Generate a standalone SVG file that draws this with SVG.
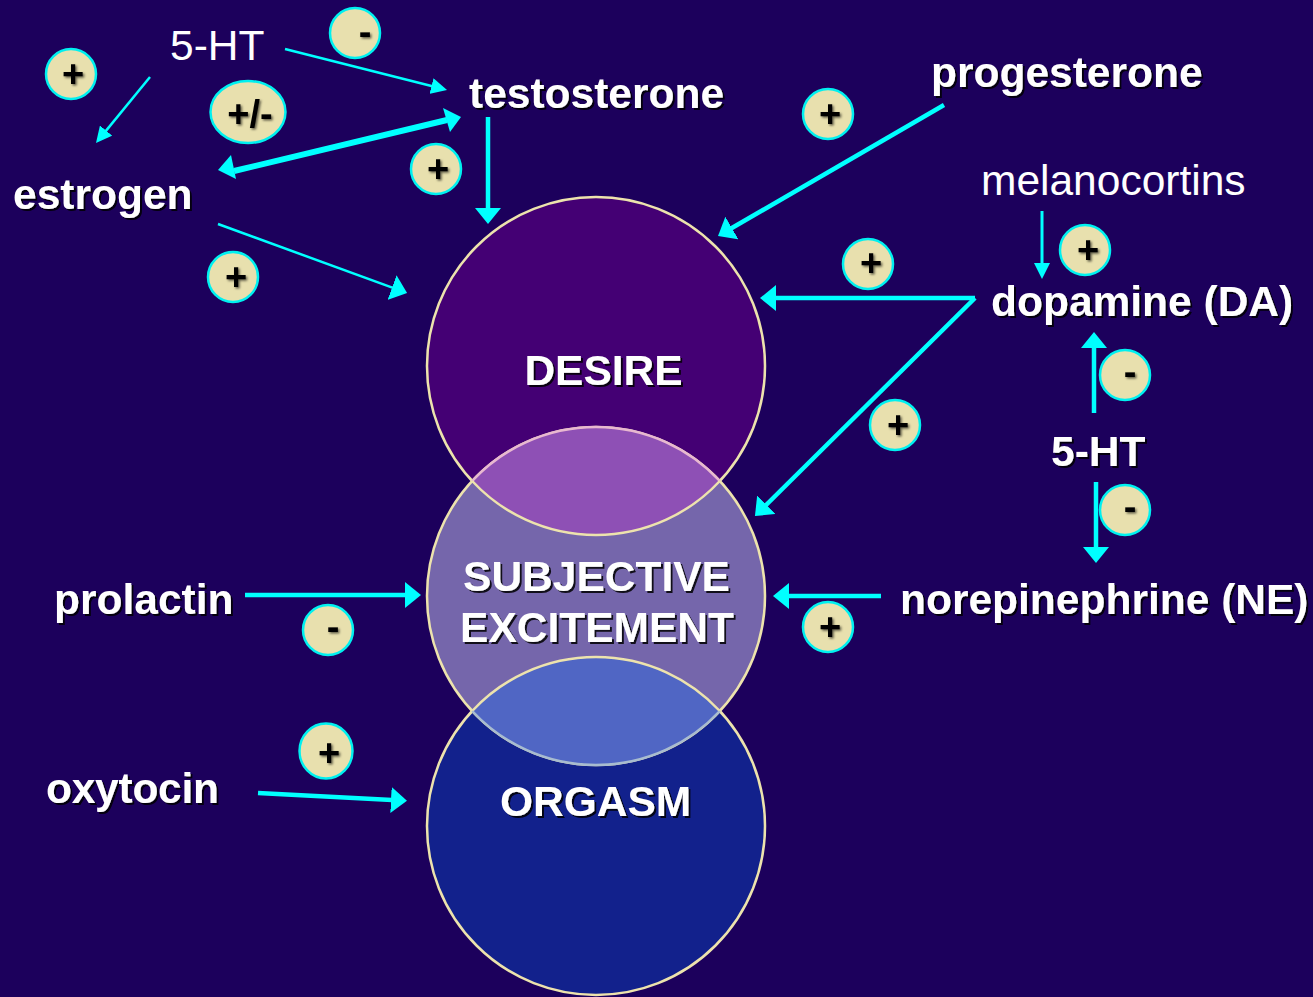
<svg xmlns="http://www.w3.org/2000/svg" width="1313" height="997" viewBox="0 0 1313 997">
<defs>
<filter id="sh" x="-10%" y="-20%" width="120%" height="140%"><feDropShadow dx="2" dy="2" stdDeviation="0.7" flood-color="#000" flood-opacity="0.85"/></filter>
<filter id="sg" x="-30%" y="-30%" width="160%" height="160%"><feGaussianBlur stdDeviation="0.4" in="SourceGraphic" result="s"/><feDropShadow in="s" dx="1.500" dy="1.500" stdDeviation="0.8" flood-color="#000" flood-opacity="0.6"/></filter>
<marker id="big" markerUnits="userSpaceOnUse" markerWidth="18" markerHeight="26" refX="1" refY="13" orient="auto" viewBox="0 0 18 26"><path d="M0 0L16 13L0 26Z" fill="#00ffff"/></marker>
<marker id="small" markerUnits="userSpaceOnUse" markerWidth="18" markerHeight="16" refX="1" refY="8" orient="auto" viewBox="0 0 18 16"><path d="M0 0L16 8L0 16Z" fill="#00ffff"/></marker>
</defs>
<style>
text{font-family:"Liberation Sans",Arial,sans-serif;fill:#fff}
.l{font-weight:bold;font-size:42.500px;filter:url(#sh)}
.t{font-size:42.500px}
.c{text-anchor:middle}
.bg circle,.bg ellipse{fill:#e8e0ae;stroke:#00f0f0;stroke-width:2.5}
.bg text{fill:#000;font-weight:bold;font-size:38px;text-anchor:middle;filter:url(#sg)}
#connectors line{stroke:#00ffff;stroke-width:2.5;marker-end:url(#small)}
#connectors line.m{stroke-width:3}
#connectors line.e{stroke-width:2.5;marker-end:url(#big)}
#connectors line.b{stroke-width:4.500;marker-end:url(#big)}
</style>
<rect width="1313" height="997" fill="#1c005c"/>
<g id="node-desire"><circle cx="596" cy="366" r="169" fill="#440074" stroke="#ede3ad" stroke-width="2.5"/></g>
<g id="node-orgasm"><circle cx="596" cy="826" r="169" fill="#12218c" stroke="#ede3ad" stroke-width="2.5"/></g>
<g id="node-excitement"><circle cx="596" cy="596" r="169" fill="#7566ab" stroke="#ede3ad" stroke-width="2.5"/>
<path d="M472.2 481A169 169 0 0 1 719.8 481A169 169 0 0 1 472.2 481Z" fill="#8e50b5"/>
<path d="M472.2 481A169 169 0 0 1 719.8 481" fill="none" stroke="#e8b8d0" stroke-width="2.5"/>
<path d="M719.8 481A169 169 0 0 1 472.2 481" fill="none" stroke="#ede3ad" stroke-width="2.5"/>
<path d="M472.2 711A169 169 0 0 1 719.8 711A169 169 0 0 1 472.2 711Z" fill="#5066c4"/>
<path d="M472.2 711A169 169 0 0 1 719.8 711" fill="none" stroke="#ede3ad" stroke-width="2.5"/>
<path d="M719.8 711A169 169 0 0 1 472.2 711" fill="none" stroke="#a8bcd0" stroke-width="2.5"/>
</g>
<g id="connectors">
<line x1="285" y1="49" x2="432.5" y2="86.3"/>
<line x1="150" y1="77" x2="105.5" y2="131.4"/>
<line class="b" x1="488" y1="117" x2="488" y2="209"/>
<line class="e" x1="218" y1="224" x2="393" y2="287.9"/>
<line class="b" x1="944" y1="105" x2="731" y2="228.5"/>
<line class="b" x1="975" y1="298" x2="775" y2="298"/>
<line class="b" x1="975" y1="298" x2="765.6" y2="505.500"/>
<line class="m" x1="1042" y1="211" x2="1042" y2="264"/>
<line class="b" x1="1094" y1="413" x2="1094" y2="347"/>
<line class="b" x1="1096" y1="482" x2="1096" y2="548"/>
<line class="b" x1="881" y1="596" x2="788" y2="596"/>
<line class="b" x1="245" y1="595" x2="406" y2="595"/>
<line class="b" x1="258" y1="793" x2="392" y2="800"/>
<path d="M234 171L447 120" stroke="#00ffff" stroke-width="6" fill="none"/>
<path d="M218 170L231 155L236 179Z" fill="#00ffff"/>
<path d="M461 117L443 108L450 132Z" fill="#00ffff"/>
</g>
<g id="labels">
<text id="node-5ht-top" class="t" x="170" y="60">5-HT</text>
<text id="node-testosterone" class="l" x="469" y="108">testosterone</text>
<text id="node-estrogen" class="l" x="13" y="209">estrogen</text>
<text id="node-progesterone" class="l" x="931" y="87">progesterone</text>
<text id="node-melanocortins" class="t" x="981" y="195">melanocortins</text>
<text id="node-dopamine" class="l" x="991" y="316">dopamine (DA)</text>
<text id="node-5ht-right" class="l" x="1051" y="466">5-HT</text>
<text id="node-ne" class="l" x="900" y="614">norepinephrine (NE)</text>
<text id="node-prolactin" class="l" x="54" y="614">prolactin</text>
<text id="node-oxytocin" class="l" x="46" y="803" textLength="173" lengthAdjust="spacing">oxytocin</text>
<text class="l c" x="603.500" y="385">DESIRE</text>
<text class="l c" x="596.500" y="591">SUBJECTIVE</text>
<text class="l c" x="597" y="642">EXCITEMENT</text>
<text class="l c" x="595.500" y="816">ORGASM</text>
</g>
<g id="badges" class="bg">
<g><circle cx="71" cy="74" r="25"/><text x="73" y="87">+</text></g>
<g><circle cx="355" cy="33" r="25"/><text x="365" y="45">-</text></g>
<g><ellipse cx="248" cy="112" rx="37.500" ry="31"/><text x="250" y="127">+/-</text></g>
<g><circle cx="436" cy="169" r="25"/><text x="438" y="182">+</text></g>
<g><circle cx="233" cy="277" r="25"/><text x="236" y="290">+</text></g>
<g><circle cx="828" cy="114" r="25"/><text x="830" y="127">+</text></g>
<g><circle cx="868" cy="264" r="25"/><text x="871" y="276">+</text></g>
<g><circle cx="895" cy="425" r="25"/><text x="898" y="438">+</text></g>
<g><circle cx="1085" cy="250" r="25"/><text x="1088" y="263">+</text></g>
<g><circle cx="1125" cy="375" r="25"/><text x="1130" y="385">-</text></g>
<g><circle cx="1125" cy="510" r="25"/><text x="1130" y="520">-</text></g>
<g><circle cx="828" cy="627" r="25"/><text x="830" y="640">+</text></g>
<g><circle cx="328" cy="630" r="25"/><text x="333" y="640">-</text></g>
<g><ellipse cx="326" cy="751" rx="26.500" ry="27.500"/><text x="329" y="766">+</text></g>
</g>
</svg>
